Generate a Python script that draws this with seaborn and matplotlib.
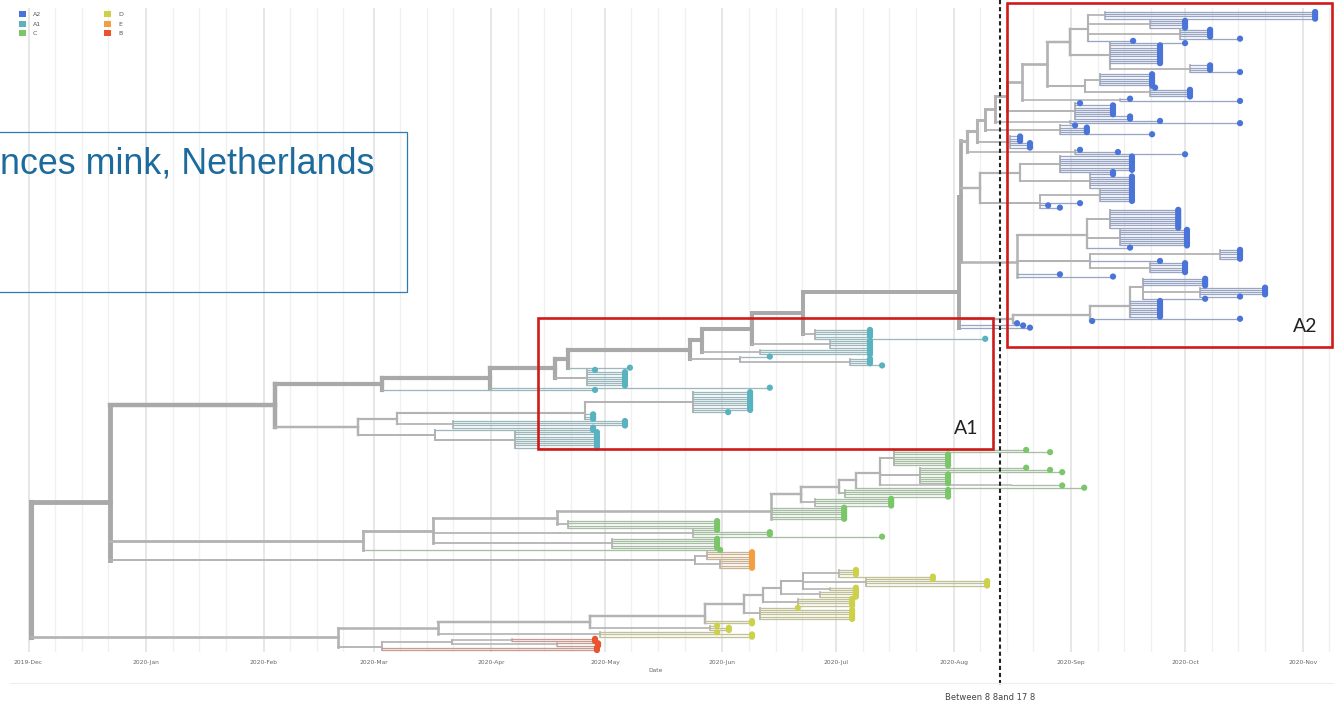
import numpy as np
import pandas as pd
import matplotlib
matplotlib.use("Agg")
import matplotlib.pyplot as plt
import matplotlib.dates as mdates
from matplotlib.collections import LineCollection
from matplotlib.patches import Rectangle, Patch
from matplotlib.colors import to_rgb
import seaborn as sns

ORIGIN = pd.Timestamp("2019-12-01")   # every "day" below counts from this date

CLADES = ["A2", "A1", "C", "D", "E", "B"]
CLADE_COLORS = ["#4a74d8", "#58b2c0", "#7cc66a", "#cdd14a", "#f0a040", "#e9532d"]

# Rows are (node, parent, day, tips).  tips == 0 -> internal node;
# tips > 0 -> that many sampled sequences hanging from `parent`, dated `day`.
BACKBONE = [
    ("root", None, 0.7, 0),
    ("n110", "root", 21.5, 0),
    ("n275", "n110", 65.0, 0),
    ("n382", "n275", 93.2, 0),
    ("n490", "n382", 121.7, 0),
    ("n555", "n490", 138.8, 0),
    ("n568", "n555", 142.3, 0),
    ("n690", "n568", 174.4, 0),
    ("n702", "n690", 177.6, 0),
    ("n752", "n702", 190.8, 0),
    ("n803", "n752", 204.2, 0),
    ("a2", "n803", 245.4, 0),
    ("a2u", "a2", 245.8, 0),
]

A2_TOP = [
    ("a967", "a2u", 247.5, 0),
    ("a977", "a967", 250.1, 0),
    ("a985", "a977", 252.3, 0),
    ("a995", "a985", 254.9, 0),
    ("a1007", "a995", 258.1, 0),
    ("a1022", "a1007", 262.0, 0),
    ("a1047", "a1022", 268.6, 0),
    ("a1070", "a1047", 274.7, 0),
    ("a1088", "a1070", 279.4, 0),
    ("a1105", "a1088", 283.9, 0),
    (None, "a1105", 339.3, 4),
    ("a1150", "a1088", 295.8, 0),
    (None, "a1150", 305.0, 4),
    ("a1180", "a1088", 303.7, 0),
    (None, "a1180", 311.6, 4),
    (None, "a1180", 319.5, 1),
    (None, "a1088", 291.3, 1),
    ("a1110", "a1070", 285.2, 0),
    (None, "a1110", 305.0, 1),
    (None, "a1110", 298.4, 9),
    ("a1190", "a1110", 306.3, 0),
    (None, "a1190", 311.6, 3),
    (None, "a1190", 319.5, 1),
    ("a1085", "a1047", 278.6, 0),
    ("a1100", "a1085", 282.6, 0),
    (None, "a1100", 296.3, 6),
    ("a1150b", "a1085", 295.8, 0),
    (None, "a1150b", 297.1, 1),
    (None, "a1150b", 306.3, 4),
    ("a1120", "a1022", 287.9, 0),
    (None, "a1120", 290.5, 1),
    (None, "a1120", 319.5, 1),
    ("a1075b", "a1007", 276.0, 0),
    (None, "a1075b", 277.3, 1),
    (None, "a1075b", 286.0, 5),
    (None, "a1075b", 290.5, 2),
    ("a1070b", "a995", 274.7, 0),
    (None, "a1070b", 298.4, 1),
    (None, "a1070b", 319.5, 1),
    ("a1060", "a985", 272.0, 0),
    (None, "a1060", 276.0, 1),
    (None, "a1060", 279.1, 3),
    (None, "a1060", 296.3, 1),
    ("a1010", "a977", 258.8, 0),
    (None, "a1010", 261.5, 3),
    (None, "a1010", 264.1, 3),
    ("a1075", "a967", 276.0, 0),
    (None, "a1075", 277.3, 1),
    (None, "a1075", 287.3, 1),
    (None, "a1075", 305.0, 1),
]

A2_MID = [
    ("a980", "a2u", 250.9, 0),
    ("a1020m", "a980", 261.5, 0),
    ("a1060m", "a1020m", 272.0, 0),
    (None, "a1060m", 291.0, 7),
    (None, "a1060m", 286.0, 1),
    ("a1090m", "a1020m", 279.9, 0),
    (None, "a1090m", 286.0, 1),
    (None, "a1090m", 291.0, 6),
    ("a1040m", "a980", 266.8, 0),
    ("a1100m", "a1040m", 282.6, 0),
    (None, "a1100m", 291.0, 6),
    (None, "a1040m", 277.3, 1),
    (None, "a1040m", 268.9, 1),
    (None, "a1040m", 272.0, 1),
]

A2_LOW = [
    ("a1017", "a2u", 260.7, 0),
    ("a1087l", "a1017", 279.1, 0),
    ("a1110l", "a1087l", 285.2, 0),
    (None, "a1110l", 303.2, 9),
    ("a1120l", "a1087l", 287.9, 0),
    (None, "a1120l", 305.5, 8),
    (None, "a1087l", 290.5, 1),
    ("a1090l", "a1017", 279.9, 0),
    ("a1220l", "a1090l", 314.2, 0),
    (None, "a1220l", 319.5, 5),
    (None, "a1090l", 298.4, 1),
    ("a1150l", "a1090l", 295.8, 0),
    (None, "a1150l", 305.0, 5),
    (None, "a1017", 272.0, 1),
    (None, "a1017", 286.0, 1),
]

A2_BOT = [
    ("a1013b", "a2", 259.6, 0),
    ("a1090b", "a1013b", 279.9, 0),
    ("a1130b", "a1090b", 290.5, 0),
    ("a1143b", "a1130b", 293.9, 0),
    (None, "a1143b", 310.3, 4),
    ("a1200b", "a1143b", 308.9, 0),
    (None, "a1200b", 326.1, 4),
    (None, "a1200b", 319.5, 1),
    (None, "a1143b", 310.3, 1),
    (None, "a1130b", 298.4, 8),
    (None, "a1090b", 319.5, 1),
    (None, "a1090b", 280.5, 1),
    (None, "a1013b", 260.7, 1),
    (None, "a2", 262.3, 1),
    (None, "a2", 264.1, 1),
]

A1_UPPER = [
    ("t815", "n803", 207.4, 0),
    (None, "t815", 221.9, 4),
    (None, "t815", 252.3, 1),
    ("t830", "n752", 211.4, 0),
    (None, "t830", 221.9, 4),
    ("t760", "n702", 192.9, 0),
    (None, "t760", 221.9, 3),
    ("t740", "n690", 187.6, 0),
    (None, "t740", 195.5, 1),
    ("t850", "t740", 216.6, 0),
    (None, "t850", 221.9, 3),
    (None, "t850", 225.1, 1),
    (None, "n568", 158.6, 1),
    ("t587", "n555", 147.3, 0),
    (None, "t587", 149.4, 1),
    (None, "t587", 157.3, 7),
    (None, "n490", 195.5, 1),
    (None, "n382", 149.4, 1),
]

A1_LOWER = [
    ("t358", "n275", 86.9, 0),
    ("t397", "t358", 97.2, 0),
    ("t585", "t397", 146.8, 0),
    ("t693", "t585", 175.2, 0),
    (None, "t693", 190.3, 9),
    (None, "t693", 184.5, 1),
    (None, "t585", 148.9, 3),
    ("t453", "t397", 112.0, 0),
    (None, "t453", 157.3, 3),
    (None, "t453", 148.9, 1),
    ("t435", "t358", 107.2, 0),
    (None, "t435", 148.9, 1),
    ("t515", "t435", 128.3, 0),
    (None, "t515", 149.9, 8),
]

C_ROWS = [
    ("c363", "n110", 88.2, 0),
    ("c433", "c363", 106.7, 0),
    ("c557", "c433", 139.4, 0),
    ("c771", "c557", 195.8, 0),
    ("c801", "c771", 203.7, 0),
    ("c839", "c801", 213.7, 0),
    ("c856", "c839", 218.2, 0),
    ("c880", "c856", 224.6, 0),
    ("c894", "c880", 228.3, 0),
    (None, "c894", 263.1, 1),
    (None, "c894", 269.4, 1),
    (None, "c894", 242.5, 6),
    ("c920", "c880", 235.1, 0),
    (None, "c920", 263.1, 1),
    (None, "c920", 269.4, 1),
    (None, "c920", 272.6, 1),
    (None, "c920", 242.5, 5),
    ("c1011", "c880", 259.1, 0),
    (None, "c1011", 272.6, 1),
    (None, "c856", 278.4, 1),
    ("c845", "c839", 215.3, 0),
    (None, "c845", 242.5, 4),
    ("c815", "c801", 207.4, 0),
    (None, "c815", 227.5, 4),
    (None, "c771", 215.1, 6),
    ("c568", "c557", 142.3, 0),
    (None, "c568", 181.6, 4),
    ("c560", "c433", 140.2, 0),
    ("c693", "c560", 175.2, 0),
    (None, "c693", 181.6, 1),
    (None, "c693", 195.5, 2),
    (None, "c693", 225.1, 1),
    ("c612", "c433", 153.9, 0),
    (None, "c612", 181.6, 5),
    (None, "c363", 182.4, 1),
]

E_ROWS = [
    ("e695", "n110", 175.8, 0),
    ("e707", "e695", 179.0, 0),
    (None, "e707", 190.8, 4),
    ("e720", "e695", 182.4, 0),
    (None, "e720", 190.8, 4),
]

D_ROWS = [
    ("d338", "root", 81.6, 0),
    ("d438", "d338", 108.0, 0),
    ("d590", "d438", 148.1, 0),
    ("d705", "d590", 178.4, 0),
    ("d744", "d705", 188.7, 0),
    ("d763", "d744", 193.7, 0),
    ("d781", "d763", 198.4, 0),
    ("d803", "d781", 204.2, 0),
    ("d839", "d803", 213.7, 0),
    (None, "d839", 218.2, 3),
    (None, "d839", 238.5, 1),
    ("d866", "d803", 220.9, 0),
    (None, "d866", 238.5, 1),
    (None, "d866", 252.8, 3),
    ("d830", "d803", 211.4, 0),
    (None, "d830", 218.2, 2),
    ("d820", "d781", 208.7, 0),
    (None, "d820", 218.2, 3),
    ("d798", "d763", 202.9, 0),
    (None, "d798", 217.2, 4),
    ("d760", "d744", 192.9, 0),
    (None, "d760", 202.9, 1),
    (None, "d760", 217.2, 5),
    (None, "d705", 190.8, 2),
    ("d710", "d590", 179.7, 0),
    (None, "d710", 181.6, 1),
    (None, "d710", 184.7, 2),
    ("d600", "d438", 150.7, 0),
    (None, "d600", 181.6, 1),
    (None, "d600", 190.8, 2),
]

B_ROWS = [
    ("r382", "d338", 93.2, 0),
    ("r452", "r382", 111.7, 0),
    ("r512", "r452", 127.5, 0),
    (None, "r512", 149.4, 2),
    ("r557", "r452", 139.4, 0),
    (None, "r557", 150.2, 2),
    (None, "r382", 149.9, 2),
]

REGIONS = [(BACKBONE, None), (A2_TOP, "A2"), (A2_MID, "A2"), (A2_LOW, "A2"),
           (A2_BOT, "A2"), (A1_UPPER, "A1"), (A1_LOWER, "A1"), (C_ROWS, "C"),
           (E_ROWS, "E"), (D_ROWS, "D"), (B_ROWS, "B")]

# ---- build the tree -------------------------------------------------------
parent, day, clade, is_leaf, kids = [], [], [], [], []
index = {}
for rows, cl in REGIONS:
    for name, par, d, n in rows:
        for _ in range(max(n, 1)):
            i = len(parent)
            p = index[par] if par is not None else -1
            parent.append(p); day.append(d); clade.append(cl)
            is_leaf.append(n > 0); kids.append([])
            if p >= 0:
                kids[p].append(i)
        if n == 0:
            index[name] = i

M = len(parent)
y = np.zeros(M)
ntip = np.zeros(M, dtype=int)
counter = [0]


def place(i):
    if is_leaf[i]:
        y[i] = counter[0]
        counter[0] += 1
        ntip[i] = 1
        return
    for k in kids[i]:
        place(k)
    y[i] = np.mean([y[k] for k in kids[i]])
    ntip[i] = sum(ntip[k] for k in kids[i])


place(0)
N = counter[0]

base = mdates.date2num(ORIGIN)
X = base + np.array(day)
palette = dict(zip(CLADES, CLADE_COLORS))


def mix(c, frac, grey):
    a, g = np.array(to_rgb(c)), np.array(to_rgb(grey))
    return tuple(frac * a + (1 - frac) * g)


def branch_colour(i):
    if clade[i] is None:
        return to_rgb("#a9a9a9")
    if is_leaf[i]:
        return mix(palette[clade[i]], 0.30, "#bababa")
    return to_rgb("#b3b3b3")


def width_pt(i):
    if is_leaf[i]:
        return 1.3 * 0.72
    return (1.3 + 3.8 * np.sqrt(ntip[i] / N)) * 0.72


segs, cols, lws = [], [], []
order = sorted(range(M), key=lambda i: -ntip[i])
for i in order:
    c, w = branch_colour(i), width_pt(i)
    p = parent[i]
    if p >= 0:
        segs.append([(X[p], y[i]), (X[i], y[i])]); cols.append(c); lws.append(w)
    if not is_leaf[i]:
        ys = [y[k] for k in kids[i]]
        segs.append([(X[i], min(ys)), (X[i], max(ys))]); cols.append(c); lws.append(w)

# ---- figure -----------------------------------------------------------------
sns.set_style("white")
plt.rcParams["font.family"] = ["DejaVu Sans"]

W, H = 1334, 705
fig = plt.figure(figsize=(W / 100, H / 100), dpi=100)
top_px, bot_px = 8, 652
ax = fig.add_axes([0, 1 - bot_px / H, 1, (bot_px - top_px) / H])

first_px, last_px = 12, 650
sp = (last_px - first_px) / (N - 1)
ax.set_ylim((bot_px - first_px) / sp, (top_px - first_px) / sp)
ax.set_xlim(base - 28.5 / 3.792, base + (W - 28.5) / 3.792)

lc = LineCollection(segs, colors=cols, linewidths=lws, capstyle="projecting",
                    joinstyle="miter", zorder=2)
ax.add_collection(lc)

leaf_idx = [i for i in range(M) if is_leaf[i]]
tips = pd.DataFrame({"date": X[leaf_idx], "y": y[leaf_idx],
                     "clade": [clade[i] for i in leaf_idx]})
sns.scatterplot(data=tips, x="date", y="y", hue="clade", palette=palette,
                s=20, linewidth=0, legend=False, ax=ax, zorder=4, clip_on=False)

ax.xaxis.set_major_locator(mdates.MonthLocator())
ax.xaxis.set_major_formatter(mdates.DateFormatter("%Y-%b"))
ax.xaxis.set_minor_locator(mdates.DayLocator(bymonthday=[8, 15, 22]))
ax.grid(which="major", axis="x", color="#e0e0e0", lw=1.1, zorder=0)
ax.grid(which="minor", axis="x", color="#f0f0f0", lw=1.0, zorder=0)
ax.set_axisbelow(True)
ax.tick_params(axis="x", which="both", length=0, labelsize=4.3,
               labelcolor="#666666", pad=6)
ax.set_yticks([])
ax.set_ylabel("")
ax.set_xlabel("Date", fontsize=4.3, color="#666666")
ax.xaxis.set_label_coords(656 / W, -(668 - bot_px) / (bot_px - top_px))
for s in ax.spines.values():
    s.set_visible(False)

handles = [Patch(facecolor=c, edgecolor="none", label=k) for k, c in zip(CLADES, CLADE_COLORS)]
leg = fig.legend(handles=handles, ncol=2, loc="upper left", frameon=False,
                 bbox_to_anchor=(18.5 / W, 1 - 11 / H), fontsize=4.5,
                 handlelength=1.2, handleheight=1.2, handletextpad=1.1,
                 labelspacing=0.5, columnspacing=10, borderpad=0, borderaxespad=0)
for t in leg.get_texts():
    t.set_color("#555555")

# ---- annotation layer (pixel coordinates) --------------------------------
ov = fig.add_axes([0, 0, 1, 1], facecolor="none")
ov.set_xlim(0, W)
ov.set_ylim(H, 0)
ov.axis("off")

red = "#d01a1a"
ov.add_patch(Rectangle((538, 318), 455, 131, fill=False, ec=red, lw=1.9))
ov.add_patch(Rectangle((1007, 3), 325, 344, fill=False, ec=red, lw=1.9))
ov.text(966, 429, "A1", ha="center", va="center", fontsize=14, color="#222222", family="Lato")
ov.text(1305, 326, "A2", ha="center", va="center", fontsize=14, color="#222222", family="Lato")

ov.add_patch(Rectangle((-3, 132), 410, 160, fill=False, ec="#2f7ab3", lw=0.9))
ov.text(0, 174, "nces mink, Netherlands", ha="left", va="baseline", fontsize=25.8,
        color="#1d6b9c", family="Liberation Sans")

ov.plot([1000, 1000], [0, 685], color="#222222", lw=1.5, linestyle=(0, (2.0, 1.4)))
ov.text(990, 698, "Between 8 8and 17 8", ha="center", va="center", fontsize=6,
        color="#444444")
ov.plot([10, W], [683, 683], color="#eeeeee", lw=0.8)

fig.savefig("out.png", dpi=100, facecolor="white")
